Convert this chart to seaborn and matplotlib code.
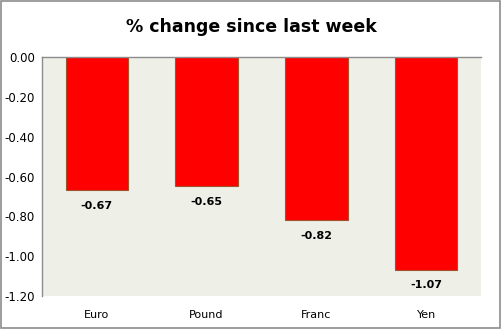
import matplotlib
matplotlib.use("Agg")
import matplotlib.pyplot as plt
import seaborn as sns
import pandas as pd

currencies = ["Euro", "Pound", "Franc", "Yen"]
pct_change = [-0.67, -0.65, -0.82, -1.07]
y_ticks = [0.0, -0.2, -0.4, -0.6, -0.8, -1.0, -1.2]

df = pd.DataFrame({"currency": currencies, "change": pct_change})

sns.set_style("white")
plt.rcParams["font.family"] = ["DejaVu Sans"]
plt.rcParams["text.color"] = "black"
plt.rcParams["xtick.color"] = "black"
plt.rcParams["ytick.color"] = "black"

fig = plt.figure(figsize=(5.02, 3.29), dpi=100)
ax = fig.add_axes([42 / 502, 1 - 296 / 329, 439 / 502, 239 / 329])
ax.set_facecolor("#EEF0E8")

sns.barplot(data=df, x="currency", y="change", color="#FF0000", width=0.57,
            saturation=1, edgecolor="#A0522D", linewidth=0.8, ax=ax)

ax.set_ylim(-1.2, 0)
ax.set_yticks(y_ticks)
ax.set_yticklabels([f"{t:.2f}" for t in y_ticks], fontsize=8.5)
ax.set_xlim(-0.5, len(currencies) - 0.5)
ax.set_xlabel("")
ax.set_ylabel("")
ax.tick_params(axis="x", length=0, pad=10, labelsize=8, labelcolor="black")
ax.tick_params(axis="y", length=0, pad=5, labelsize=8.5, labelcolor="black")

for side in ["right", "bottom"]:
    ax.spines[side].set_visible(False)
for side in ["left", "top"]:
    ax.spines[side].set_color("#8C8C8C")
    ax.spines[side].set_linewidth(1)

for i, v in enumerate(pct_change):
    ax.annotate(f"{v:.2f}", xy=(i, v), xytext=(0, -11), textcoords="offset points",
                ha="center", va="center", fontsize=8, fontweight="bold", color="black")

fig.text(0.5, 1 - 27 / 329, "% change since last week", ha="center", va="center",
         fontsize=12.5, fontweight="bold", color="black")

# outer chart border
border = plt.Rectangle((0.001, 0.002), 0.996, 0.995, transform=fig.transFigure,
                       fill=False, edgecolor="#8C8C8C", linewidth=1.2)
fig.patches.append(border)

fig.savefig("out.png", dpi=100)
